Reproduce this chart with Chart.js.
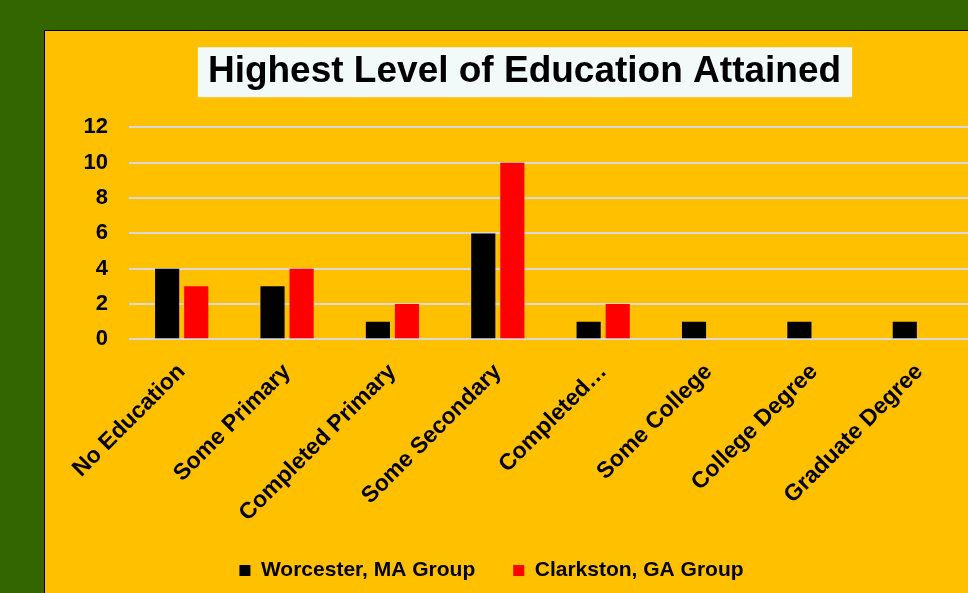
<!DOCTYPE html>
<html>
<head>
<meta charset="utf-8">
<script src="https://cdn.jsdelivr.net/npm/chart.js@4"></script>
<style>
    html, body { margin: 0; padding: 0; background: #336600; overflow: hidden; width: 968px; height: 593px; }
    #box { position: absolute; left: 44px; top: 30px; border: 1px solid #000; background: #ffc000; width: 960px; height: 580px; }
</style>
</head>
<body>
<div id="box"><canvas id="eduChart" width="960" height="580"></canvas></div>
<script>
// Chart data
const categories = ['No Education', 'Some Primary', 'Completed Primary', 'Some Secondary', 'Completed…', 'Some College', 'College Degree', 'Graduate Degree'];
const worcester = [4, 3, 1, 6, 1, 1, 1, 1];
const clarkston = [3, 4, 2, 10, 2, 0, 0, 0];
const yTicks = [0, 2, 4, 6, 8, 10, 12];

const FONT = "'Liberation Sans', Arial, sans-serif";

// white box behind the title, legend nudged left like the original
const titleBox = {
    id: 'titleBox',
    afterLayout(chart) {
        chart.legend.left -= 33;
        chart.legend.right -= 33;
    },
    beforeDraw(chart) {
        const t = chart.titleBlock;
        if (!t) return;
        const ctx = chart.ctx;
        const opts = chart.options.plugins.title;
        ctx.save();
        ctx.font = 'bold ' + opts.font.size + 'px ' + FONT;
        const w = ctx.measureText(opts.text).width;
        const cx = (t.left + t.right) / 2;
        const cy = t.top + opts.padding.top + opts.font.size * 1.2 / 2;
        ctx.fillStyle = '#f1f9f9';
        ctx.fillRect(cx - w / 2 - 10, cy - 25, w + 21, 50);
        ctx.restore();
    }
};

const ctx = document.getElementById('eduChart').getContext('2d');
new Chart(ctx, {
    type: 'bar',
    data: {
        labels: categories,
        datasets: [
            { label: 'Worcester, MA Group', data: worcester, backgroundColor: '#000000' },
            { label: 'Clarkston, GA Group', data: clarkston, backgroundColor: '#ff0000' }
        ]
    },
    options: {
        responsive: false,
        animation: false,
        layout: { padding: { left: 32, right: 33, top: 0, bottom: 20 } },
        datasets: { bar: { categoryPercentage: 0.552, barPercentage: 0.83 } },
        scales: {
            x: {
                grid: { display: false },
                border: { display: false },
                afterFit: axis => { axis.height -= 16; },
                ticks: {
                    color: '#000', autoSkip: false, minRotation: 45, maxRotation: 45, padding: 11,
                    font: { family: FONT, size: 23, weight: 'bold' }
                }
            },
            y: {
                min: 0, max: 12,
                afterBuildTicks: axis => { axis.ticks = yTicks.map(v => ({ value: v })); },
                afterFit: axis => { axis.width = 52; },
                grid: { color: '#d9d9d9', lineWidth: 2, drawTicks: false },
                border: { display: false },
                ticks: {
                    color: '#000', padding: 21,
                    font: { family: FONT, size: 22, weight: 'bold' }
                }
            }
        },
        plugins: {
            title: {
                display: true,
                text: 'Highest Level of Education Attained',
                color: '#000',
                padding: { top: 19, bottom: 33 },
                font: { family: FONT, size: 37, weight: 'bold' }
            },
            legend: {
                position: 'bottom',
                labels: {
                    color: '#000', boxWidth: 11, boxHeight: 11, padding: 38,
                    font: { family: FONT, size: 21, weight: 'bold' }
                }
            },
            tooltip: { enabled: false }
        }
    },
    plugins: [titleBox]
});
</script>
</body>
</html>
